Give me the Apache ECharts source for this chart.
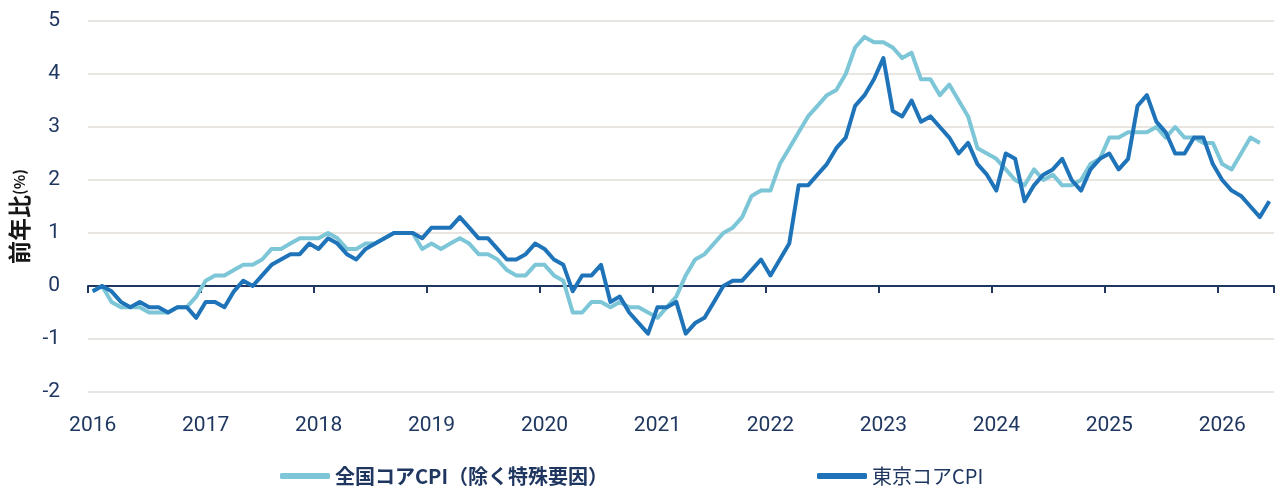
<!DOCTYPE html>
<html>
<head>
<meta charset="utf-8">
<script src="https://cdn.jsdelivr.net/npm/echarts@6/dist/echarts.min.js"></script>
<style>
html,body{margin:0;padding:0;background:#fff;}
#chart{width:1276px;height:486px;}
</style>
</head>
<body>
<div id="chart"></div>
<script>
// ---- data ----
const years = [2016, 2017, 2018, 2019, 2020, 2021, 2022, 2023, 2024, 2025, 2026];
const monthsInLastYear = 6;
const seriesNames = ['全国コアCPI（除く特殊要因）', '東京コアCPI'];
const yAxisNameMain = '前年比';
const yAxisNameUnit = '(%)';

// 全国コアCPI（除く特殊要因） 2016/01 - 2026/05
const nationalCore = [
  -0.1, 0.0, -0.3, -0.4, -0.4, -0.4, -0.5, -0.5, -0.5, -0.4, -0.4, -0.2,
  0.1, 0.2, 0.2, 0.3, 0.4, 0.4, 0.5, 0.7, 0.7, 0.8, 0.9, 0.9,
  0.9, 1.0, 0.9, 0.7, 0.7, 0.8, 0.8, 0.9, 1.0, 1.0, 1.0, 0.7,
  0.8, 0.7, 0.8, 0.9, 0.8, 0.6, 0.6, 0.5, 0.3, 0.2, 0.2, 0.4,
  0.4, 0.2, 0.1, -0.5, -0.5, -0.3, -0.3, -0.4, -0.3, -0.4, -0.4, -0.5,
  -0.6, -0.4, -0.2, 0.2, 0.5, 0.6, 0.8, 1.0, 1.1, 1.3, 1.7, 1.8,
  1.8, 2.3, 2.6, 2.9, 3.2, 3.4, 3.6, 3.7, 4.0, 4.5, 4.7, 4.6,
  4.6, 4.5, 4.3, 4.4, 3.9, 3.9, 3.6, 3.8, 3.5, 3.2, 2.6, 2.5,
  2.4, 2.2, 2.0, 1.9, 2.2, 2.0, 2.1, 1.9, 1.9, 2.0, 2.3, 2.4,
  2.8, 2.8, 2.9, 2.9, 2.9, 3.0, 2.8, 3.0, 2.8, 2.8, 2.7, 2.7,
  2.3, 2.2, 2.5, 2.8, 2.7
];

// 東京コアCPI 2016/01 - 2026/06
const tokyoCore = [
  -0.1, 0.0, -0.1, -0.3, -0.4, -0.3, -0.4, -0.4, -0.5, -0.4, -0.4, -0.6,
  -0.3, -0.3, -0.4, -0.1, 0.1, 0.0, 0.2, 0.4, 0.5, 0.6, 0.6, 0.8,
  0.7, 0.9, 0.8, 0.6, 0.5, 0.7, 0.8, 0.9, 1.0, 1.0, 1.0, 0.9,
  1.1, 1.1, 1.1, 1.3, 1.1, 0.9, 0.9, 0.7, 0.5, 0.5, 0.6, 0.8,
  0.7, 0.5, 0.4, -0.1, 0.2, 0.2, 0.4, -0.3, -0.2, -0.5, -0.7, -0.9,
  -0.4, -0.4, -0.3, -0.9, -0.7, -0.6, -0.3, 0.0, 0.1, 0.1, 0.3, 0.5,
  0.2, 0.5, 0.8, 1.9, 1.9, 2.1, 2.3, 2.6, 2.8, 3.4, 3.6, 3.9,
  4.3, 3.3, 3.2, 3.5, 3.1, 3.2, 3.0, 2.8, 2.5, 2.7, 2.3, 2.1,
  1.8, 2.5, 2.4, 1.6, 1.9, 2.1, 2.2, 2.4, 2.0, 1.8, 2.2, 2.4,
  2.5, 2.2, 2.4, 3.4, 3.6, 3.1, 2.9, 2.5, 2.5, 2.8, 2.8, 2.3,
  2.0, 1.8, 1.7, 1.5, 1.3, 1.6
];

// ---- build monthly categories ----
const categories = [];
years.forEach((y, yi) => {
  const n = (yi === years.length - 1) ? monthsInLastYear : 12;
  for (let m = 1; m <= n; m++) categories.push(y + '-' + String(m).padStart(2, '0'));
});

const NAVY = '#1f3760';
const LIGHT = '#7cc6d7';
const DARK = '#1f74b9';

const chart = echarts.init(document.getElementById('chart'), null, {renderer: 'canvas'});
chart.setOption({
  animation: false,
  backgroundColor: '#ffffff',
  grid: {left: 88, right: 2, top: 21, bottom: 94, containLabel: false},
  xAxis: [
    {
      type: 'category',
      data: categories,
      position: 'bottom',
      boundaryGap: true,
      axisLine: {show: false, onZero: false},
      axisTick: {show: false},
      splitLine: {show: false},
      axisLabel: {
        interval: 11,
        margin: 23,
        color: NAVY,
        fontFamily: 'Roboto',
        fontSize: 21,
        formatter: v => v.slice(0, 4)
      }
    },
    {
      type: 'category',
      data: categories,
      position: 'bottom',
      boundaryGap: true,
      axisLine: {show: true, onZero: true, lineStyle: {color: NAVY, width: 2}},
      axisTick: {show: true, interval: 11, length: 7, lineStyle: {color: NAVY, width: 2}},
      axisLabel: {show: false},
      splitLine: {show: false}
    }
  ],
  yAxis: {
    type: 'value',
    min: -2,
    max: 5,
    interval: 1,
    name: '{a|' + yAxisNameMain + '}{b|' + yAxisNameUnit + '}',
    nameLocation: 'middle',
    nameGap: 57,
    nameRotate: 90,
    nameTextStyle: {
      color: '#161616',
      fontFamily: 'Noto Sans CJK JP',
      fontWeight: 'bold',
      padding: [0, 20, 0, 0],
      rich: {
        a: {fontSize: 23, fontWeight: 'bold', color: '#161616', fontFamily: 'Noto Sans CJK JP'},
        b: {fontSize: 15, fontWeight: 'bold', color: '#161616', fontFamily: 'Noto Sans CJK JP'}
      }
    },
    axisLine: {show: false},
    axisTick: {show: false},
    axisLabel: {
      margin: 28,
      color: NAVY,
      fontFamily: 'Roboto',
      fontSize: 21,
      padding: [3, 0, 0, 0]
    },
    splitLine: {lineStyle: {color: '#e9e5e0', width: 2}}
  },
  legend: [
    {
      left: 275,
      top: 461,
      itemWidth: 50,
      itemHeight: 6,
      itemGap: 5,
      icon: 'roundRect',
      data: [{name: seriesNames[0], textStyle: {fontWeight: 'bold'}}],
      textStyle: {color: NAVY, fontFamily: 'Noto Sans CJK JP', fontSize: 20}
    },
    {
      left: 812,
      top: 461,
      itemWidth: 50,
      itemHeight: 6,
      itemGap: 5,
      icon: 'roundRect',
      data: [{name: seriesNames[1]}],
      textStyle: {color: NAVY, fontFamily: 'Noto Sans CJK JP', fontSize: 20, fontWeight: 'normal'}
    }
  ],
  series: [
    {
      name: seriesNames[0],
      type: 'line',
      xAxisIndex: 0,
      data: nationalCore,
      showSymbol: false,
      symbol: 'none',
      color: LIGHT,
      lineStyle: {color: LIGHT, width: 4, join: 'round'},
      z: 2
    },
    {
      name: seriesNames[1],
      type: 'line',
      xAxisIndex: 0,
      data: tokyoCore,
      showSymbol: false,
      symbol: 'none',
      color: DARK,
      lineStyle: {color: DARK, width: 4, join: 'round'},
      z: 3
    }
  ]
});
</script>
</body>
</html>
